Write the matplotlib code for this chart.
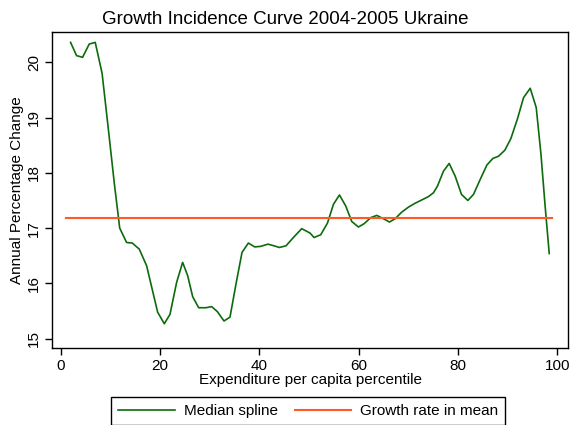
import matplotlib
matplotlib.use("Agg")
import matplotlib.pyplot as plt

plt.rcParams['font.family'] = ['Liberation Sans', 'DejaVu Sans']

# median spline
pctile = [1.95, 3.16, 4.37, 5.71, 6.92, 8.30, 9.55, 10.75, 11.85, 13.24,
          14.38, 15.79, 17.27, 19.49, 20.83, 21.98, 23.32, 24.53, 25.54, 26.55,
          27.76, 29.23, 30.38, 31.52, 32.86, 34.07, 35.28, 36.49, 37.77, 39.05,
          40.26, 41.73, 42.94, 44.02, 45.36, 46.84, 48.52, 50.20, 51.01, 52.35,
          53.70, 54.91, 56.12, 57.39, 58.60, 59.95, 61.09, 62.43, 63.64, 64.99,
          66.20, 67.34, 68.68, 70.03, 71.37, 72.72, 74.06, 75.07, 75.87, 77.08,
          78.23, 79.44, 80.71, 81.99, 83.13, 84.48, 85.82, 87.03, 88.17, 89.45,
          90.66, 92.00, 93.21, 94.56, 95.77, 96.71, 97.58, 98.39]
growth = [20.36, 20.12, 20.09, 20.33, 20.36, 19.80, 18.80, 17.82, 17.00, 16.74,
          16.73, 16.62, 16.32, 15.48, 15.27, 15.44, 16.02, 16.38, 16.14, 15.76,
          15.56, 15.56, 15.58, 15.49, 15.32, 15.39, 15.99, 16.56, 16.73, 16.66,
          16.67, 16.71, 16.68, 16.65, 16.68, 16.83, 16.99, 16.91, 16.83, 16.88,
          17.09, 17.43, 17.60, 17.40, 17.12, 17.02, 17.08, 17.19, 17.23, 17.17,
          17.11, 17.17, 17.29, 17.38, 17.45, 17.51, 17.57, 17.64, 17.76, 18.03,
          18.17, 17.94, 17.61, 17.50, 17.61, 17.88, 18.14, 18.26, 18.30, 18.41,
          18.62, 18.98, 19.36, 19.53, 19.18, 18.35, 17.38, 16.54]

mean_x = [1, 99]
mean_growth = 17.18

fig = plt.figure(figsize=(5.71, 4.25), dpi=100)
ax = fig.add_axes([0.091, 0.181, 0.904, 0.744])

ax.plot(pctile, growth, color='#0c6b0c', lw=1.2, label='Median spline')
ax.plot(mean_x, [mean_growth, mean_growth], color='#ff5a26', lw=1.5,
        label='Growth rate in mean')

ax.set_xlim(-1.8, 102.2)
ax.set_ylim(14.83, 20.55)
ax.set_xticks([0, 20, 40, 60, 80, 100])
ax.set_yticks([15, 16, 17, 18, 19, 20])
for lbl in ax.get_yticklabels():
    lbl.set_rotation(90)
    lbl.set_va('center')
ax.tick_params(labelsize=11, length=5, width=1, direction='out', pad=3)

for s in ax.spines.values():
    s.set_linewidth(1)

# title is centred on the whole figure, not the axes
fig.text(0.5, 0.955, 'Growth Incidence Curve 2004-2005 Ukraine',
         fontsize=13.5, ha='center', va='center')
ax.set_xlabel('Expenditure per capita percentile', fontsize=11, labelpad=0)
ax.set_ylabel('Annual Percentage Change', fontsize=11, labelpad=2)

leg = fig.legend(loc='upper center', bbox_to_anchor=(0.54, 0.083), ncol=2,
                 fontsize=11, handlelength=3.7, handletextpad=0.6,
                 columnspacing=1.1, borderpad=0.45, fancybox=False,
                 edgecolor='black', framealpha=1)
leg.get_frame().set_linewidth(1)

fig.savefig('out.png', dpi=100)
